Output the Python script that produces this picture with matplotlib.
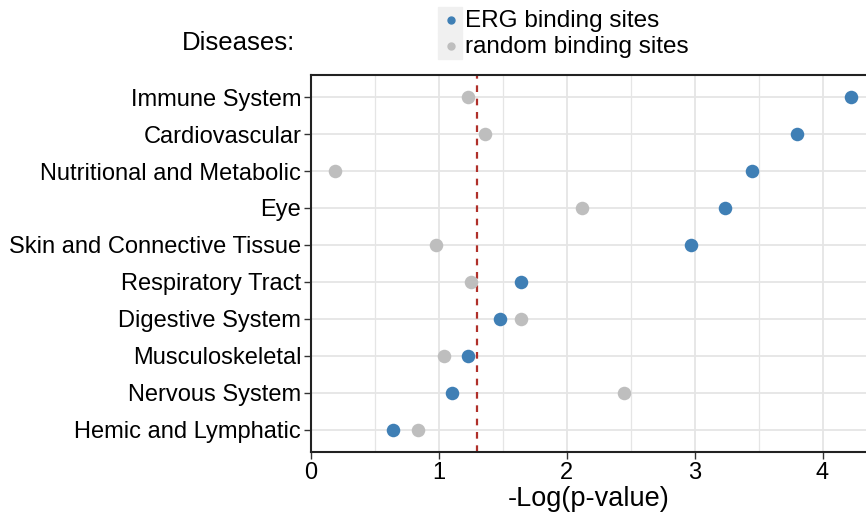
import matplotlib
matplotlib.use("Agg")
import matplotlib.pyplot as plt
from matplotlib.lines import Line2D
from matplotlib.patches import Rectangle

plt.rcParams['font.family'] = ['Liberation Sans', 'DejaVu Sans']

# disease categories, top to bottom
diseases = ["Immune System", "Cardiovascular", "Nutritional and Metabolic", "Eye",
            "Skin and Connective Tissue", "Respiratory Tract", "Digestive System",
            "Musculoskeletal", "Nervous System", "Hemic and Lymphatic"]
erg = [4.22, 3.80, 3.45, 3.24, 2.97, 1.64, 1.48, 1.23, 1.10, 0.64]
rnd = [1.23, 1.36, 0.19, 2.12, 0.98, 1.25, 1.64, 1.04, 2.45, 0.84]
cutoff = 1.30

series_labels = ["ERG binding sites", "random binding sites"]
erg_color = "#3F7FB5"
rnd_color = "#BEBEBE"

fig = plt.figure(figsize=(8.66, 5.13), dpi=100)
ax = fig.add_axes([0.359, 0.119, 0.641, 0.735])

ypos = list(range(len(diseases), 0, -1))

# grid
for x in [0.5, 1, 1.5, 2, 2.5, 3, 3.5, 4]:
    ax.axvline(x, color="#E5E5E5", lw=1.3 if x == int(x) else 0.9, zorder=0)
for y in ypos:
    ax.axhline(y, color="#E5E5E5", lw=1.3, zorder=0)

ax.axvline(cutoff, color="#B0302A", ls=(0, (3, 3)), lw=1.6, zorder=1)

ax.scatter(rnd, ypos, s=95, color=rnd_color, zorder=3, linewidths=0)
ax.scatter(erg, ypos, s=95, color=erg_color, zorder=4, linewidths=0)

ax.set_xlim(0, 4.34)
ax.set_ylim(0.4, len(diseases) + 0.6)
ax.set_yticks(ypos)
ax.set_yticklabels(diseases, fontsize=17)
ax.set_xticks([0, 1, 2, 3, 4])
ax.set_xticklabels(["0", "1", "2", "3", "4"], fontsize=17)
ax.tick_params(axis="both", color="#333333", length=5, width=1, pad=2)
ax.set_xlabel("-Log(p-value)", fontsize=19.5, labelpad=2)

for side in ["left", "bottom", "top"]:
    ax.spines[side].set_color("#222222")
    ax.spines[side].set_linewidth(1.5)
ax.spines["right"].set_visible(False)

fig.text(0.21, 0.917, "Diseases:", fontsize=18.5, ha="left", va="center")

# legend, drawn by hand: gray key boxes, small dots, labels
W, H = 866.0, 513.0
for i, (lab, col) in enumerate(zip(series_labels, [erg_color, rnd_color])):
    yc = 20 + 26 * i
    fig.patches.append(Rectangle((438 / W, 1 - (yc + 13) / H), 24 / W, 26 / H,
                                 transform=fig.transFigure, color="#F0F0F0", zorder=0))
    fig.add_artist(Line2D([451 / W], [1 - yc / H], marker="o", ls="", color=col,
                          markersize=5, transform=fig.transFigure))
    fig.text(465 / W, 1 - (yc + 1) / H, lab, fontsize=17.5, ha="left", va="center")

fig.savefig("out.png", dpi=100)
